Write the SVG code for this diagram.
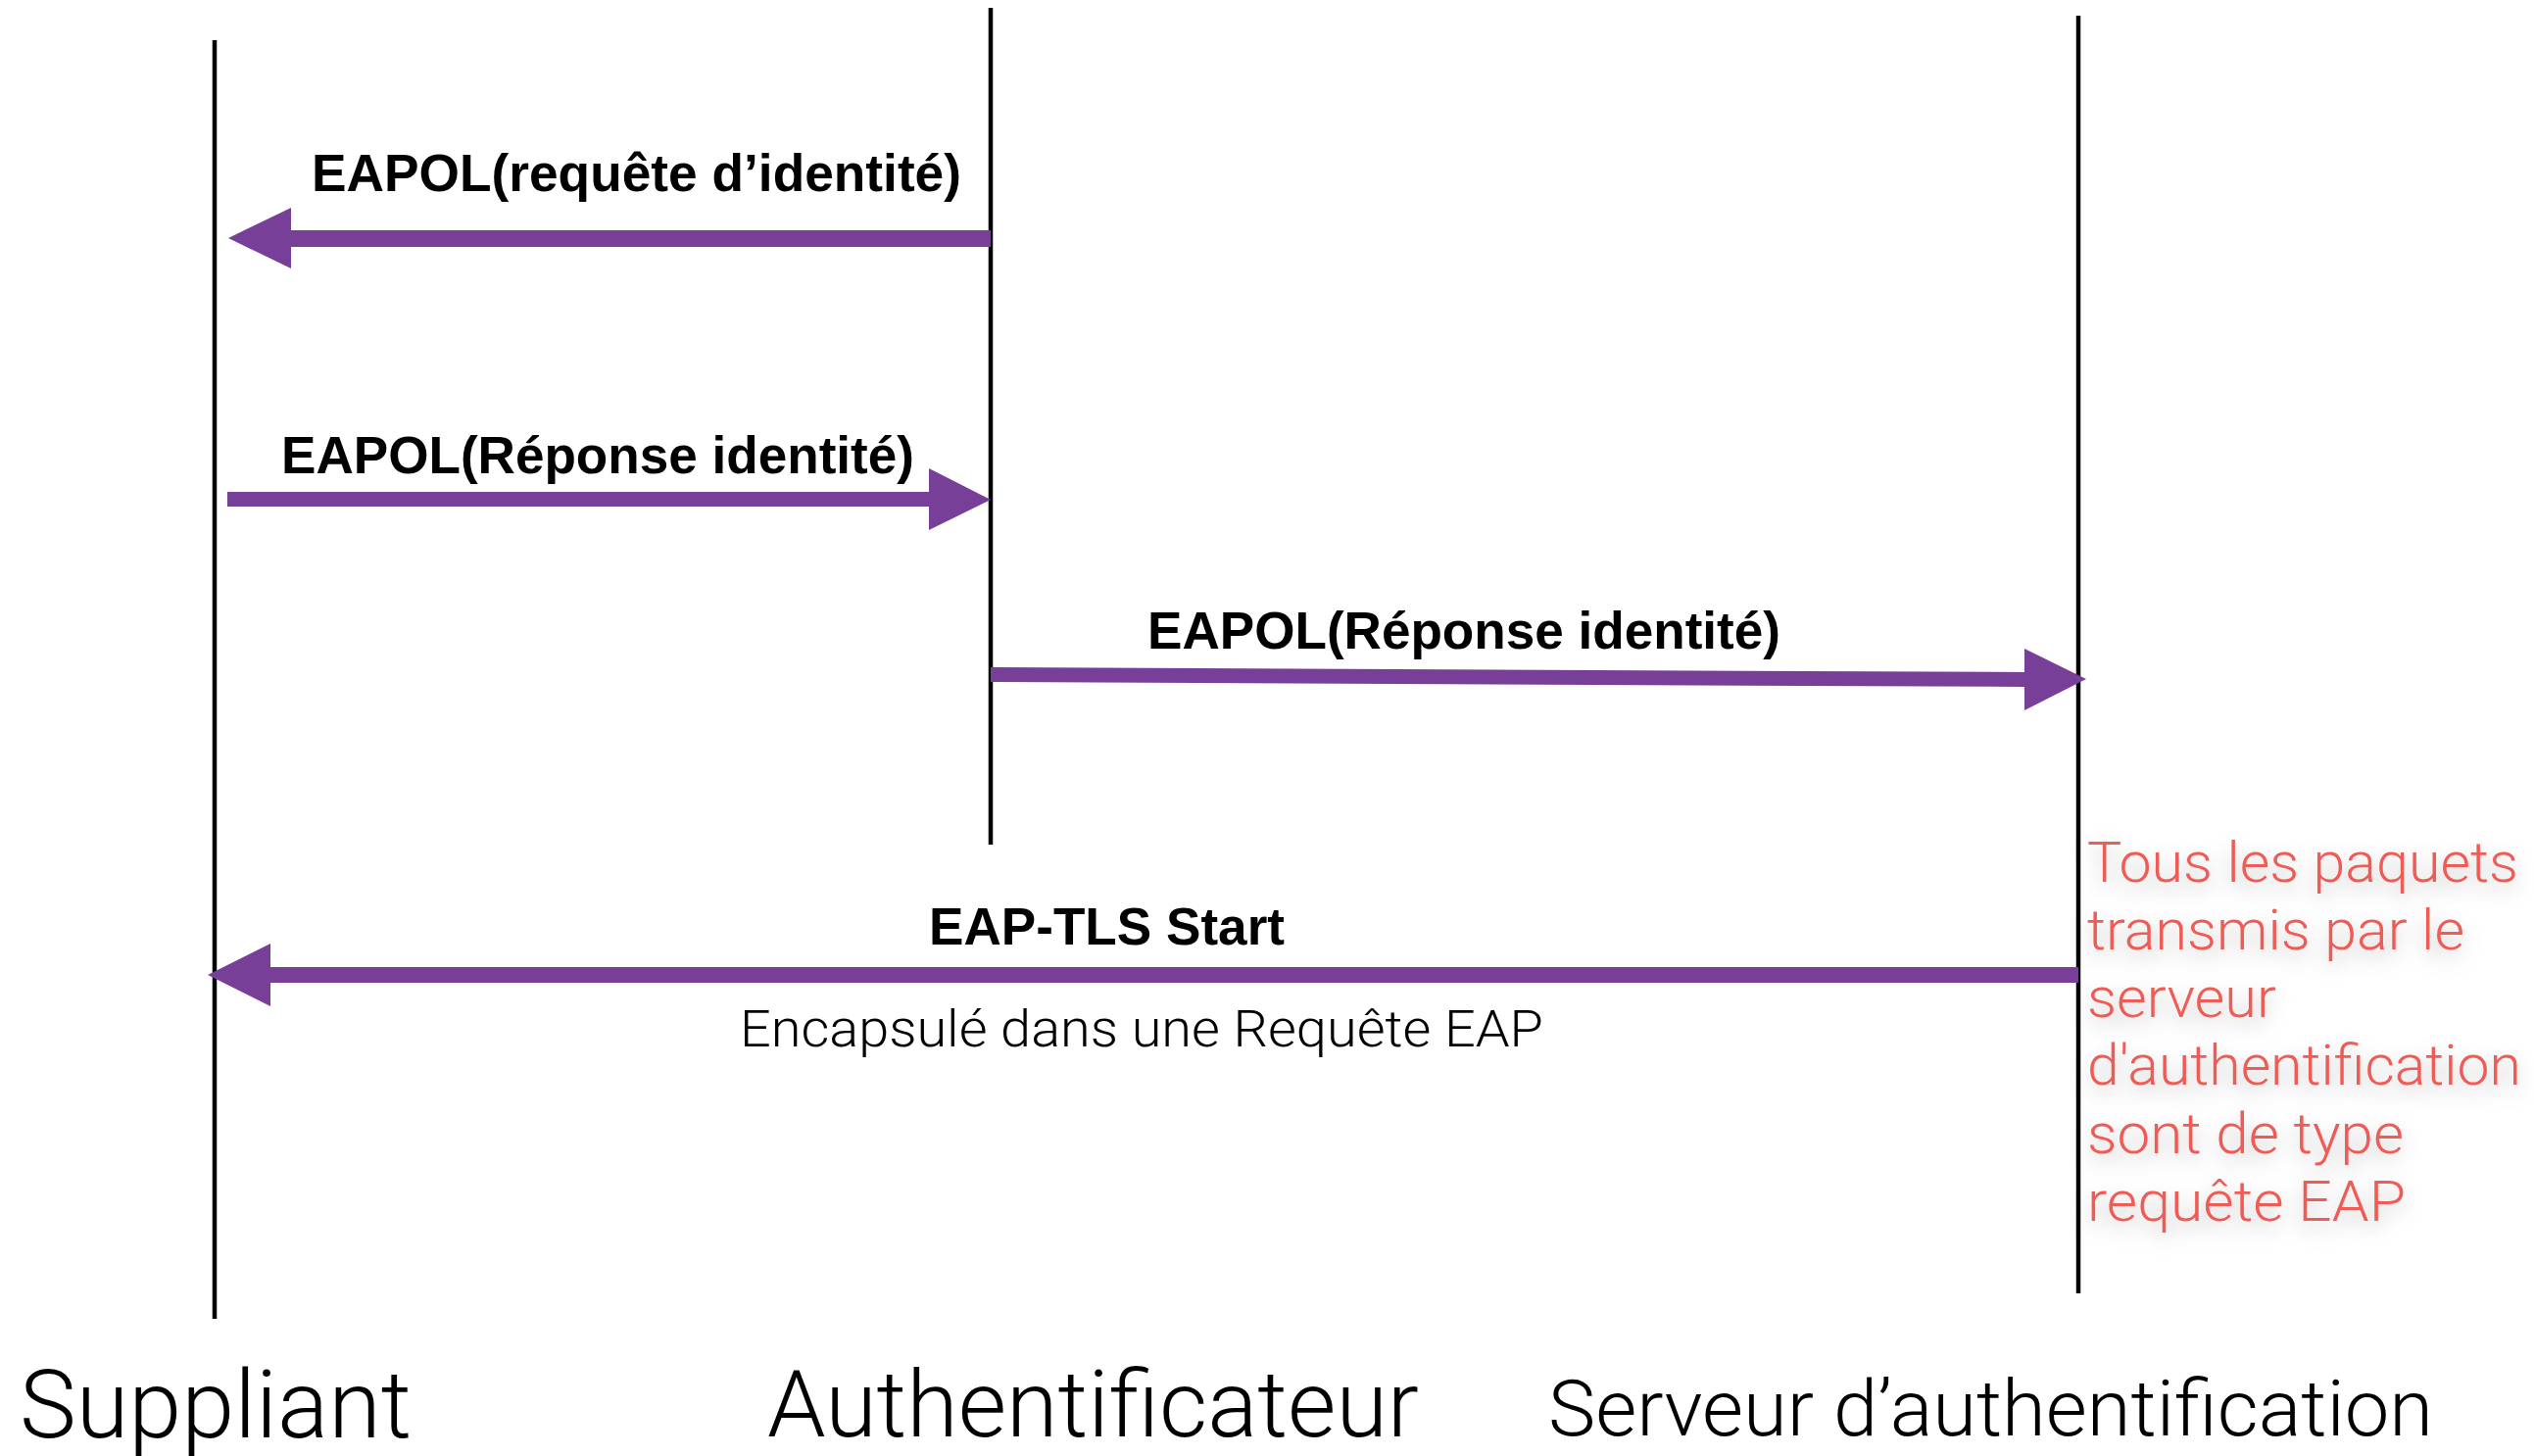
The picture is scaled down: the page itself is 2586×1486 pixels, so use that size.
<svg xmlns="http://www.w3.org/2000/svg" width="2586" height="1486" viewBox="0 0 2586 1486">
  <style>
    .life { stroke: #000; stroke-width: 4.5; fill: none; }
    .msg { fill: #783F98; }
    .lbl { font-family: "Liberation Sans", Arial, sans-serif; font-weight: bold; font-size: 53px; fill: #000; }
    .sub { font-family: Roboto, "Liberation Sans", Arial, sans-serif; font-weight: 300; font-size: 51px; fill: #000; }
    .actor { font-family: Roboto, "Liberation Sans", Arial, sans-serif; font-weight: 300; fill: #000; }
    .note { font-family: Roboto, "Liberation Sans", Arial, sans-serif; font-weight: 300; font-size: 58px; fill: #EE5B55; }
  </style>
  <defs>
    <filter id="softShadow" x="-10%" y="-20%" width="130%" height="160%">
      <feDropShadow dx="0" dy="8" stdDeviation="10" flood-color="#000" flood-opacity="0.25"/>
    </filter>
  </defs>
  <rect width="2586" height="1486" fill="#fff"/>

  <!-- participants: lifeline + name -->
  <g id="suppliant">
    <line class="life" x1="219" y1="41" x2="219" y2="1346"/>
    <text class="actor" x="20" y="1467" font-size="96" textLength="400" lengthAdjust="spacingAndGlyphs">Suppliant</text>
  </g>
  <g id="authentificateur">
    <line class="life" x1="1011" y1="8" x2="1011" y2="862"/>
    <text class="actor" x="783" y="1466" font-size="94" textLength="665" lengthAdjust="spacingAndGlyphs">Authentificateur</text>
  </g>
  <g id="serveur">
    <line class="life" x1="2121" y1="16" x2="2121" y2="1320"/>
    <text class="actor" x="1580" y="1465" font-size="80" textLength="903" lengthAdjust="spacingAndGlyphs">Serveur d’authentification</text>
  </g>

  <!-- messages -->
  <g id="connectors">
    <polygon class="msg" points="1011,235 297,235 297,212 233,243 297,274 297,252 1011,252"/>
    <polygon class="msg" points="232,502 948,502 948,478 1011,510 948,541 948,517 232,517"/>
    <polygon class="msg" points="1011,681 2066,686 2066,662 2129,693 2066,725 2066,701 1011,696"/>
    <polygon class="msg" points="2121,987 276,987 276,963 212,995 276,1027 276,1003 2121,1003"/>
  </g>

  <g id="labels">
    <text class="lbl" x="318" y="195" textLength="663" lengthAdjust="spacingAndGlyphs">EAPOL(requête d’identité)</text>
    <text class="lbl" x="287" y="483" textLength="646" lengthAdjust="spacingAndGlyphs">EAPOL(Réponse identité)</text>
    <text class="lbl" x="1171" y="662" textLength="646" lengthAdjust="spacingAndGlyphs">EAPOL(Réponse identité)</text>
    <text class="lbl" x="948" y="964" textLength="363" lengthAdjust="spacingAndGlyphs">EAP-TLS Start</text>
    <text class="sub" x="755" y="1068" textLength="820" lengthAdjust="spacingAndGlyphs">Encapsulé dans une Requête EAP</text>
  </g>

  <g id="note" filter="url(#softShadow)">
    <text class="note" x="2130" y="900" textLength="440" lengthAdjust="spacingAndGlyphs">Tous les paquets</text>
    <text class="note" x="2130" y="969" textLength="385" lengthAdjust="spacingAndGlyphs">transmis par le</text>
    <text class="note" x="2130" y="1038" textLength="193" lengthAdjust="spacingAndGlyphs">serveur</text>
    <text class="note" x="2130" y="1107" textLength="443" lengthAdjust="spacingAndGlyphs">d'authentification</text>
    <text class="note" x="2130" y="1177" textLength="323" lengthAdjust="spacingAndGlyphs">sont de type</text>
    <text class="note" x="2130" y="1246" textLength="325" lengthAdjust="spacingAndGlyphs">requête EAP</text>
  </g>
</svg>
